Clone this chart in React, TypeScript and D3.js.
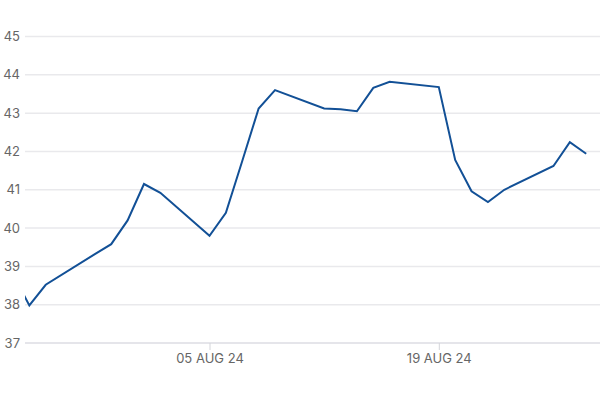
import React from "react";
import * as d3 from "d3";

const dates: string[] = [
  "2024-07-24", "2024-07-25", "2024-07-26", "2024-07-29", "2024-07-30", "2024-07-31",
  "2024-08-01", "2024-08-02", "2024-08-05", "2024-08-06", "2024-08-07", "2024-08-08",
  "2024-08-09", "2024-08-12", "2024-08-13", "2024-08-14", "2024-08-15", "2024-08-16",
  "2024-08-19", "2024-08-20", "2024-08-21", "2024-08-22", "2024-08-23", "2024-08-26",
  "2024-08-27", "2024-08-28",
];
const values: number[] = [
  38.8, 37.98, 38.52, 39.32, 39.58, 40.2,
  41.15, 40.92, 39.8, 40.4, 41.75, 43.12,
  43.6, 43.12, 43.1, 43.05, 43.66, 43.82,
  43.68, 41.78, 40.96, 40.68, 41.0, 41.62,
  42.24, 41.94,
];
const yTicks: number[] = [37, 38, 39, 40, 41, 42, 43, 44, 45];
const xTickDates: string[] = ["2024-08-05", "2024-08-19"];

const parse = (s: string) => new Date(s + "T00:00:00Z");
const fmt = (d: Date) => d3.utcFormat("%d %b %y")(d).toUpperCase();

export default function App() {
  const W = 600, H = 400;
  const left = 25, right = 600;
  const x = d3.scaleUtc().domain([parse(xTickDates[0]), parse(xTickDates[1])]).range([209.5, 438.8]);
  const y = d3.scaleLinear().domain([37, 45]).range([343, 36.5]);
  const data = dates.map((d, i) => ({ d: parse(d), v: values[i] }));
  const line = d3.line<{ d: Date; v: number }>().x((p) => x(p.d)).y((p) => y(p.v));
  const font = "Inter, 'Open Sans', sans-serif";
  return (
    <svg width={W} height={H} style={{ position: "absolute", left: 0, top: 0, background: "#fff" }}>
      <defs>
        <clipPath id="plot">
          <rect x={left} y={0} width={right - left} height={H} />
        </clipPath>
      </defs>
      {yTicks.map((t) => (
        <g key={t}>
          <line x1={left} x2={right} y1={y(t)} y2={y(t)} stroke={t === 37 ? "#dcdde3" : "#e9e9ec"} strokeWidth={1.5} />
          <text x={20} y={y(t)} dy="0.35em" textAnchor="end" fontFamily={font} fontSize={13} fill="#666">
            {t}
          </text>
        </g>
      ))}
      {xTickDates.map((s) => {
        const xx = x(parse(s));
        return (
          <g key={s}>
            <line x1={xx + 0.5} x2={xx + 0.5} y1={y(37)} y2={y(37) + 7} stroke="#d4d5da" strokeWidth={1} />
            <text x={xx + 0.5} y={362.5} textAnchor="middle" fontFamily={font} fontSize={13} fill="#666">
              {fmt(parse(s))}
            </text>
          </g>
        );
      })}
      <path d={line(data) || ""} fill="none" stroke="#125096" strokeWidth={2} strokeLinejoin="miter" clipPath="url(#plot)" />
    </svg>
  );
}
